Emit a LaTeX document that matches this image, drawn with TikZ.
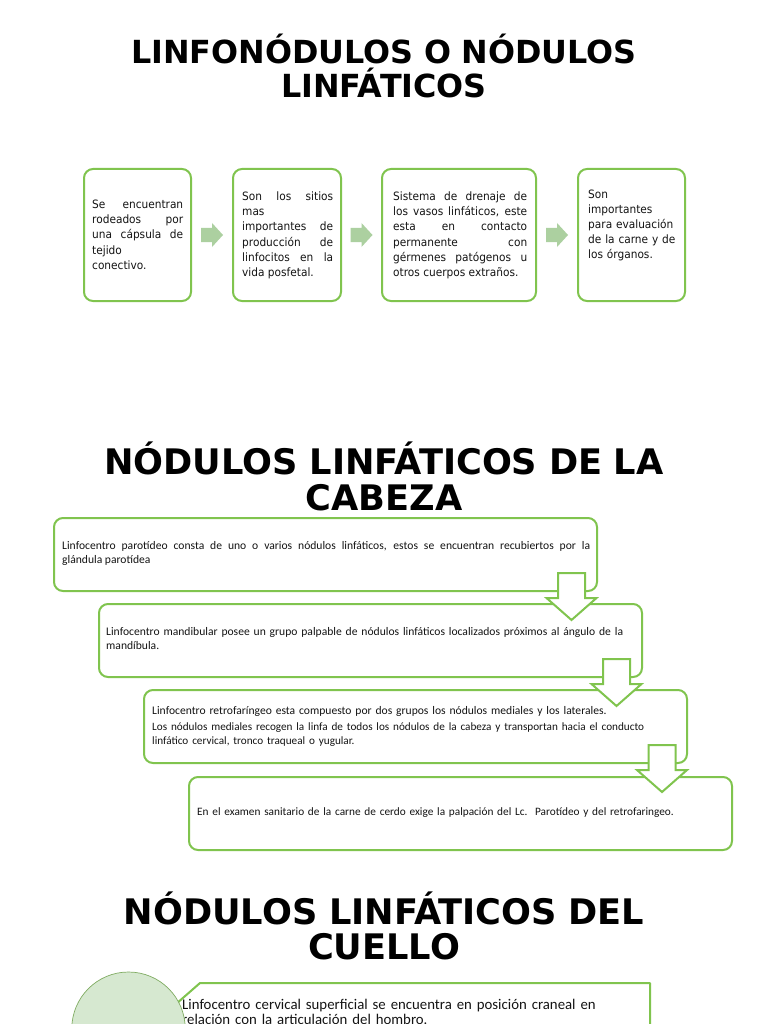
\documentclass[tikz,border=0pt]{standalone}
\usepackage{fontspec}
\usetikzlibrary{calc}
\setmainfont{Carlito}
\newfontfamily\titlefont{DejaVu Sans}
\newfontfamily\verdfont[FakeStretch=0.92]{DejaVu Sans}
\definecolor{gboxc}{RGB}{128,196,78}
\definecolor{afill}{RGB}{172,208,160}
\definecolor{cfill}{RGB}{214,232,208}
\definecolor{cbord}{RGB}{128,172,98}
\definecolor{txtc}{RGB}{20,20,20}
\begin{document}
\begin{tikzpicture}[x=1pt,y=-1pt,
  gbox/.style={draw=gboxc, line width=2pt, rounded corners=9pt, inner sep=0pt},
  ttl/.style={font=\titlefont\bfseries\fontsize{35.2}{36}\selectfont, text width=740, align=center, anchor=base, inner sep=0pt},
  ttlone/.style={ttl, font=\titlefont\bfseries\fontsize{31.8}{34}\selectfont},
  toptxt/.style={font=\verdfont\fontsize{11.5}{15}\selectfont, text=txtc, anchor=base west, inner sep=0pt, align=justify},
  casctxt/.style={font=\fontsize{11.6}{14}\selectfont, text=txtc, anchor=base west, inner sep=0pt, text width=528, align=left},
  rarrow/.pic={\fill[afill] (-11,-7) -- (0,-7) -- (0,-12) -- (11,0) -- (0,12) -- (0,7) -- (-11,7) -- cycle;},
  darrow/.pic={\draw[draw=gboxc, fill=white, line width=2pt, line join=miter]
     (-13.5,0) -- (13.5,0) -- (13.5,25) -- (25,25) -- (0,47) -- (-25,25) -- (-13.5,25) -- cycle;}
]
\useasboundingbox (0,0) rectangle (768,1024);
\clip (0,0) rectangle (768,1024);
\fill[white] (0,0) rectangle (768,1024);

% ---------- Title 1
\node[ttlone] (t1) at (384,63.5) {LINFONÓDULOS O NÓDULOS\\LINFÁTICOS};

% ---------- Top row
\node[gbox, minimum width=107, minimum height=132, anchor=north west] (b1) at (83,168) {};
\node[gbox, minimum width=108, minimum height=132, anchor=north west] (b2) at (232,168) {};
\node[gbox, minimum width=154, minimum height=132, anchor=north west] (b3) at (381,168) {};
\node[gbox, minimum width=107, minimum height=132, anchor=north west] (b4) at (577,168) {};

\coordinate (a1) at ($(b1.east)!0.5!(b2.west)$);
\coordinate (a2) at ($(b2.east)!0.5!(b3.west)$);
\coordinate (a3) at ($(b3.east)!0.5!(b4.west)$);
\pic at (a1) {rarrow};
\pic at (a2) {rarrow};
\pic at (a3) {rarrow};

\node[toptxt, text width=91] (x1) at (92,209) {Se encuentran\linebreak rodeados por\linebreak una cápsula de\linebreak tejido\linebreak conectivo.};
\node[toptxt, text width=91] (x2) at (242,201) {Son los sitios\linebreak mas\linebreak importantes de\linebreak producción de\linebreak linfocitos en la\linebreak vida posfetal.};
\node[toptxt, text width=134] (x3) at (393,201) {Sistema de drenaje de\linebreak los vasos linfáticos, este\linebreak esta en contacto\linebreak permanente con\linebreak gérmenes patógenos u\linebreak otros cuerpos extraños.};
\node[toptxt, text width=92, align=left] (x4) at (588,199) {Son\\importantes\\para evaluación\\de la carne y de\\los órganos.};

% ---------- Title 2
\node[ttl] (t2) at (384,474) {NÓDULOS LINFÁTICOS DE LA\\CABEZA};

% ---------- Cascade
\node[gbox, minimum width=543, minimum height=73, anchor=north west] (h1) at (53,517) {};
\node[gbox, minimum width=543, minimum height=73, anchor=north west] (h2) at (98,603) {};
\node[gbox, minimum width=543, minimum height=73, anchor=north west] (h3) at (143,689) {};
\node[gbox, minimum width=543, minimum height=73, anchor=north west] (h4) at (188,776) {};

\node[casctxt, align=justify] (y1) at (62,549.5) {Linfocentro parotídeo consta de uno o varios nódulos linfáticos, estos se encuentran recubiertos por la\linebreak glándula parotídea};
\node[casctxt] (y2) at (106,635.5) {Linfocentro mandibular posee un grupo palpable de nódulos linfáticos localizados próximos al ángulo de la\\mandíbula.};
\node[casctxt] (y3) at (152,714.5) {Linfocentro retrofaríngeo esta compuesto por dos grupos los nódulos mediales y los laterales.\par\vspace{2pt}{\fontsize{11.2}{14}\selectfont Los nódulos mediales recogen la linfa de todos los nódulos de la cabeza y transportan hacia el conducto\\linfático cervical, tronco traqueal o yugular.\par}};
\node[casctxt, font=\fontsize{11.3}{14}\selectfont] (y4) at (197,815.5) {En el examen sanitario de la carne de cerdo exige la palpación del Lc.\ \ Parotídeo y del retrofaringeo.};

\pic at (571.5,573) {darrow};
\pic at (616.5,659) {darrow};
\pic at (662,745) {darrow};

% ---------- Title 3
\node[ttl, font=\titlefont\bfseries\fontsize{35.2}{35}\selectfont] (t3) at (384,924) {NÓDULOS LINFÁTICOS DEL\\CUELLO};

% ---------- Bottom
\draw[draw=gboxc, line width=2pt, line join=round] (200,983) -- (650,983) -- (650,1040) -- (176,1040) -- (176,1004) -- cycle;
\node[anchor=base west, inner sep=0pt, font=\fontsize{14.8}{15}\selectfont, text=txtc, text width=470, align=left] (z1) at (182,1009.5) {Linfocentro cervical superficial se encuentra en posición craneal en\\relación con la articulación del hombro.};
\node[circle, draw=cbord, fill=cfill, line width=0.7pt, minimum size=113.4, inner sep=0pt] (cc) at (128.5,1028.7) {};
\end{tikzpicture}
\end{document}
